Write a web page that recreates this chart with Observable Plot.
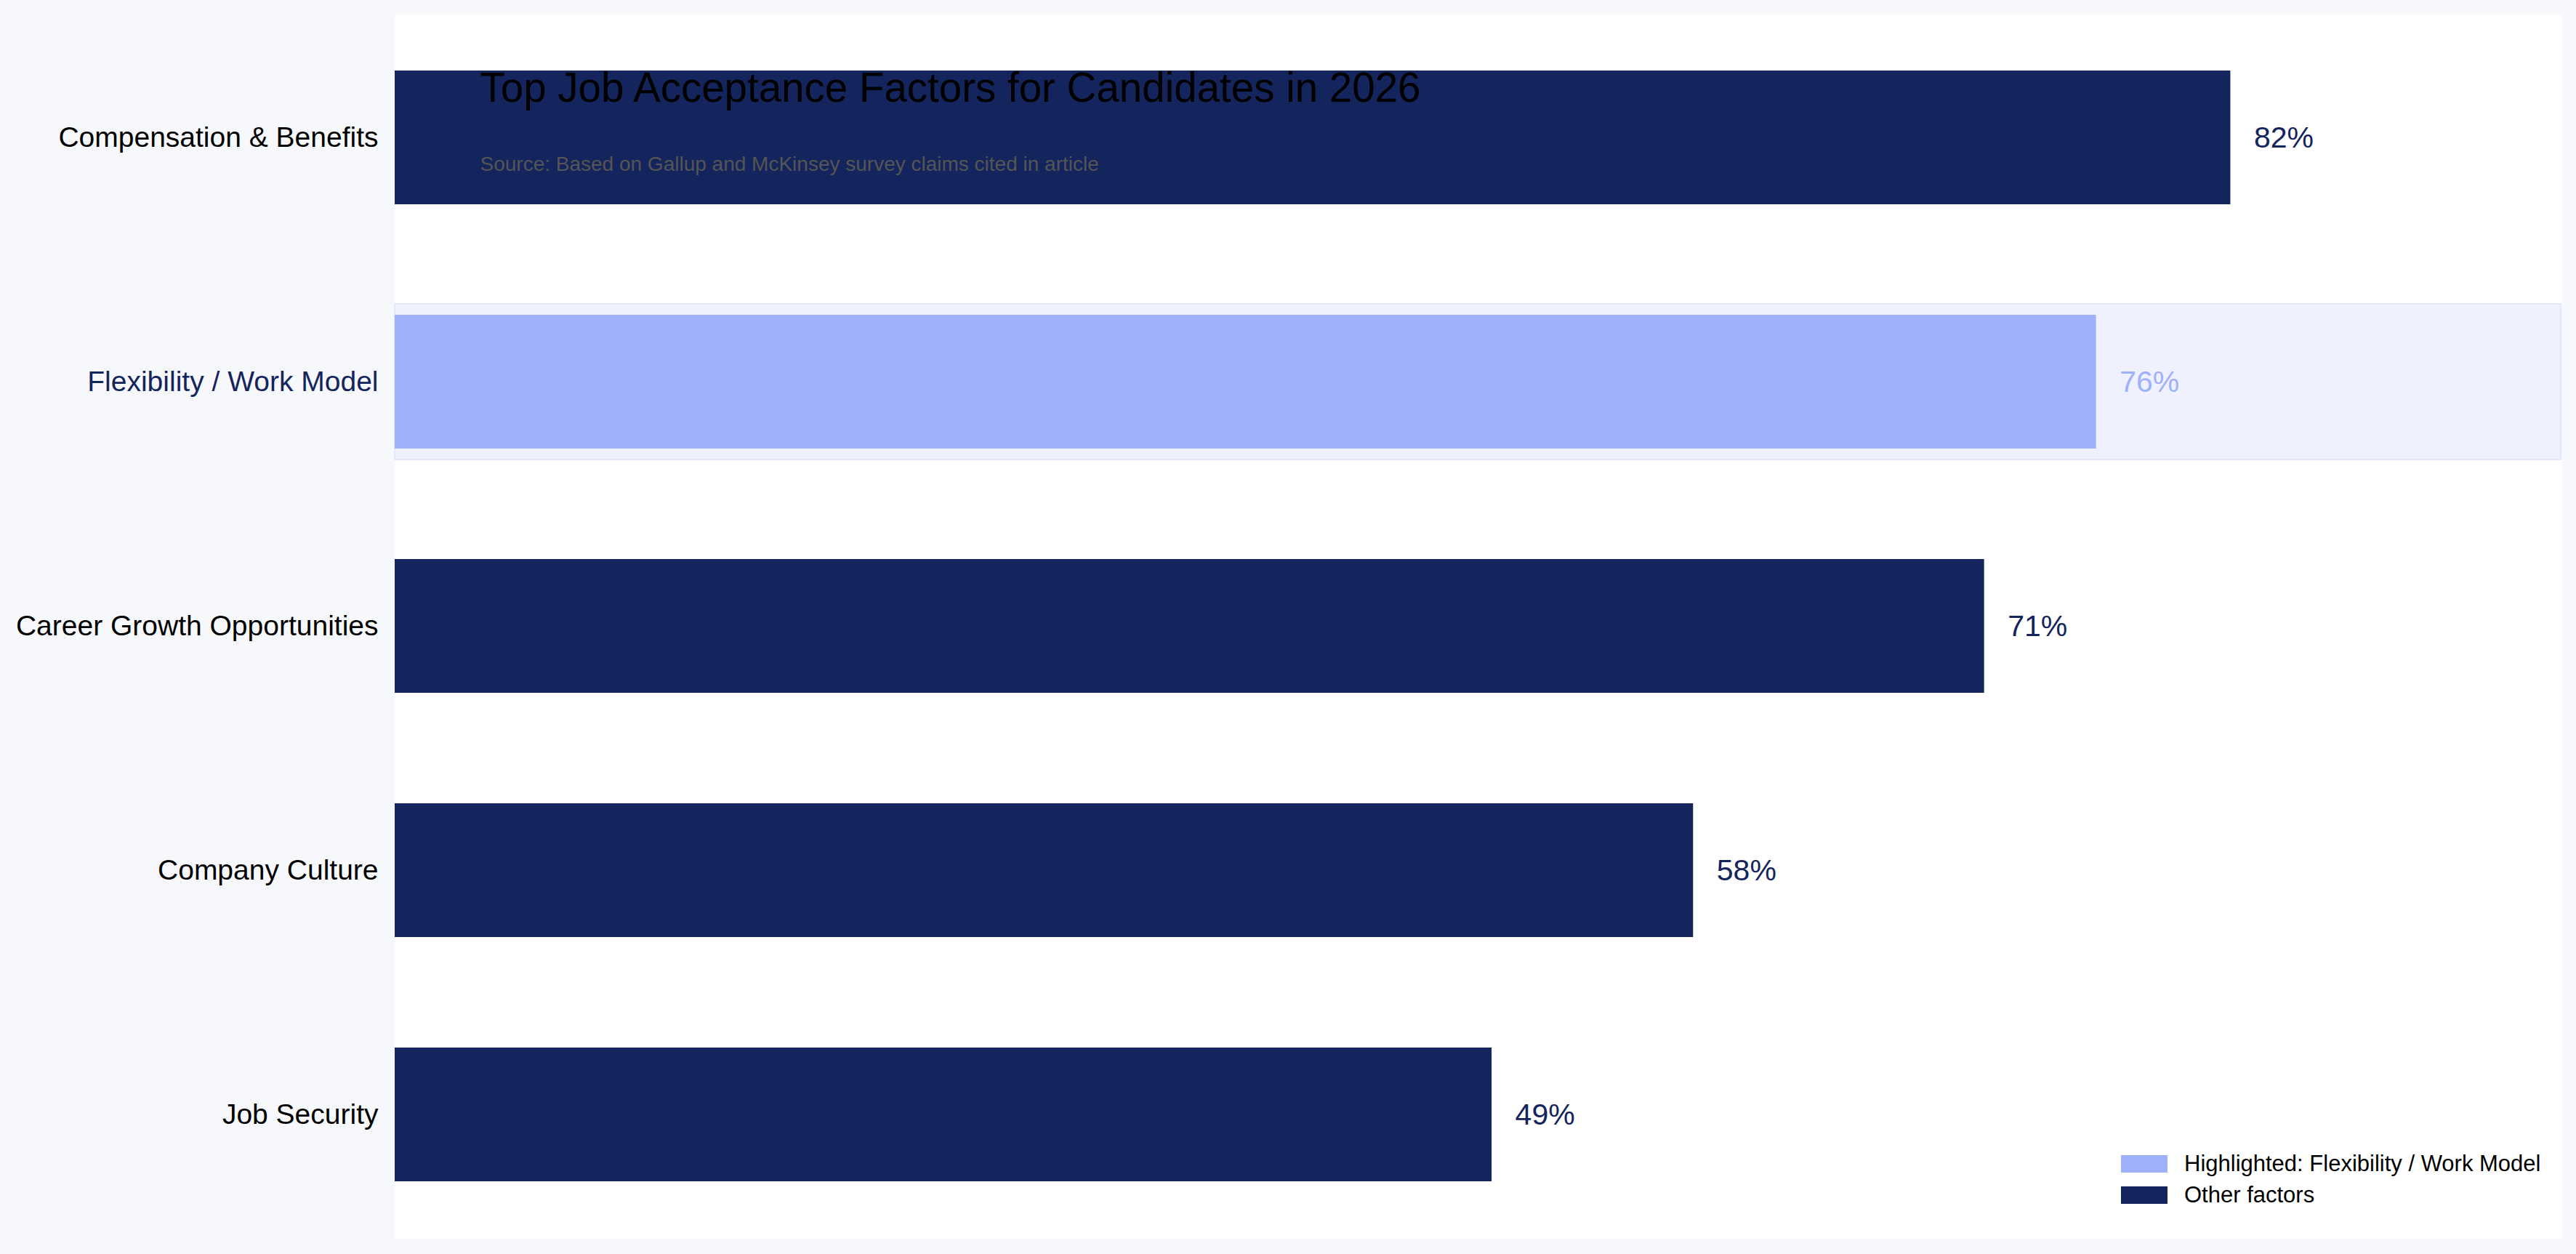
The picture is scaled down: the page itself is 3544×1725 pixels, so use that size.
<!DOCTYPE html>
<html>
<head>
<meta charset="utf-8">
<script src="https://cdn.jsdelivr.net/npm/d3@7"></script>
<script src="https://cdn.jsdelivr.net/npm/@observablehq/plot@0.6"></script>
<style>
  html, body { margin: 0; padding: 0; background: #f7f8fc; }
  #wrap { position: relative; width: 3544px; height: 1725px; font-family: "Liberation Sans", Arial, Helvetica, sans-serif; }
  #legend { position: absolute; left: 2918px; top: 1589px; font-size: 31px; color: #000; }
  .row { display: flex; align-items: center; height: 24px; margin-bottom: 19px; white-space: nowrap; }
  .sw { width: 64px; height: 24px; margin-right: 23px; }
</style>
</head>
<body>
<div id="wrap"></div>
<script>
const categories = ["Compensation & Benefits", "Flexibility / Work Model", "Career Growth Opportunities", "Company Culture", "Job Security"];
const values = [82, 76, 71, 58, 49];
const highlight = "Flexibility / Work Model";
const title = "Top Job Acceptance Factors for Candidates in 2026";
const subtitle = "Source: Based on Gallup and McKinsey survey claims cited in article";
const legendLabels = ["Highlighted: Flexibility / Work Model", "Other factors"];

const navy = "#14245c";
const light = "#a0b1fc";
const data = categories.map((c, i) => ({category: c, value: values[i]}));
const xMax = d3.max(values) * 1.18;

const chart = Plot.plot({
  width: 3544,
  height: 1725,
  marginLeft: 543,
  marginRight: 21,
  marginTop: 19,
  marginBottom: 21,
  style: {background: "#f7f8fc", fontFamily: "'Liberation Sans', Arial, Helvetica, sans-serif", color: "#000"},
  x: {domain: [0, xMax], axis: null},
  y: {domain: categories, paddingInner: 0.452, paddingOuter: 0.229, label: null},
  marks: [
    Plot.frame({fill: "white", stroke: null}),
    Plot.barX([highlight], {y: d => d, x1: 0, x2: xMax, fill: "#eff2fe", stroke: "#e3e8fb", strokeWidth: 2, insetTop: -15, insetBottom: -15}),
    Plot.barX(data, {y: "category", x: "value", fill: d => d.category === highlight ? light : navy}),
    Plot.text(data, {y: "category", x: "value", text: d => d.value + "%", dx: 32, textAnchor: "start", fontSize: 41, fill: d => d.category === highlight ? light : navy}),
    Plot.axisY({tickSize: 0, tickPadding: 23, fontSize: 39, label: null, fill: d => d === highlight ? navy : "#000"}),
    Plot.text([title], {frameAnchor: "top-left", text: d => d, dx: 117, dy: 80, lineAnchor: "top", textAnchor: "start", fontSize: 56.5, fill: "#000"}),
    Plot.text([subtitle], {frameAnchor: "top-left", text: d => d, dx: 117, dy: 196, lineAnchor: "top", textAnchor: "start", fontSize: 28, fill: "#555"})
  ]
});

const wrap = document.getElementById("wrap");
wrap.appendChild(chart);

const legend = document.createElement("div");
legend.id = "legend";
[[legendLabels[0], light], [legendLabels[1], navy]].forEach(([label, color]) => {
  const row = document.createElement("div");
  row.className = "row";
  const sw = document.createElement("div");
  sw.className = "sw";
  sw.style.background = color;
  const t = document.createElement("span");
  t.textContent = label;
  row.appendChild(sw);
  row.appendChild(t);
  legend.appendChild(row);
});
wrap.appendChild(legend);
</script>
</body>
</html>
